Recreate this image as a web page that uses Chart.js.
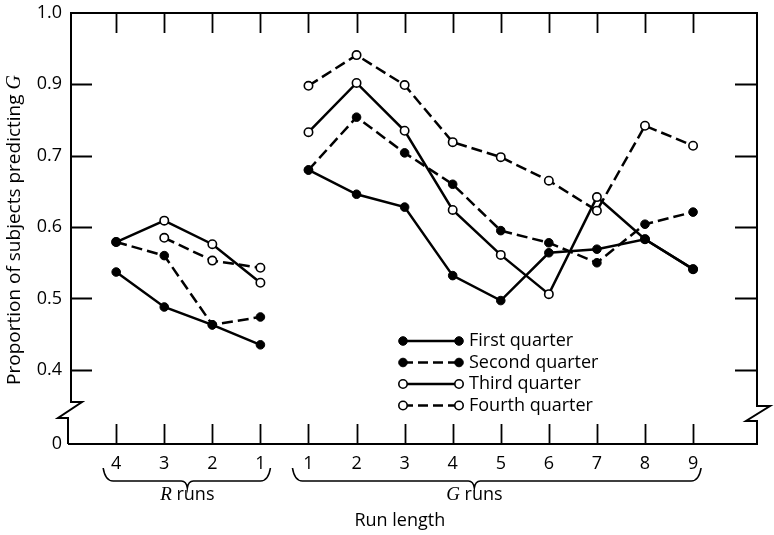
<!DOCTYPE html>
<html>
<head>
<meta charset="utf-8">
<script src="https://cdn.jsdelivr.net/npm/chart.js@4"></script>
<style>
  body { margin: 0; background: #fff; }
  .wrap { width: 774px; height: 535px; position: relative; }
</style>
</head>
<body>
<div class="wrap"><canvas id="runs"></canvas></div>
<script>
// run lengths: R runs counted down to 1, then G runs 1..9
const rLabels = ["4", "3", "2", "1"];
const gLabels = ["1", "2", "3", "4", "5", "6", "7", "8", "9"];

const seriesNames = ["First quarter", "Second quarter", "Third quarter", "Fourth quarter"];
const firstQuarter = [0.537, 0.488, 0.463, 0.435, 0.680, 0.646, 0.628, 0.532, 0.497, 0.564, 0.569, 0.583, 0.541];
const secondQuarter = [0.579, 0.560, 0.463, 0.474, 0.680, 0.754, 0.704, 0.660, 0.595, 0.578, 0.550, 0.604, 0.621];
const thirdQuarter = [0.579, 0.609, 0.576, 0.522, 0.733, 0.802, 0.735, 0.624, 0.561, 0.506, 0.642, 0.583, 0.541];
const fourthQuarter = [null, 0.585, 0.553, 0.543, 0.798, 0.841, 0.799, 0.719, 0.698, 0.665, 0.623, 0.742, 0.714];

// the axis is broken below 0.4, its foot is labelled 0
const yTickValues = [0.296, 0.4, 0.5, 0.6, 0.7, 0.8, 0.9];
const yTickLabels = ["0", "0.4", "0.5", "0.6", "0.7", "0.9", "1.0"];

const xLabels = rLabels.concat(gLabels);
const xIndex = xLabels.map((l, i) => i);

const SANS = "'Open Sans', 'Liberation Sans', sans-serif";
const SERIF_IT = "italic 19px 'Liberation Serif', serif";

// lines are not joined across the R / G split
const toPoints = (values) => {
  const pts = [];
  values.forEach((v, i) => {
    if (i === rLabels.length) pts.push({ x: i - 0.5, y: null });
    pts.push({ x: i, y: v });
  });
  return pts;
};

const styles = [
  { dash: [], fill: "#000" },
  { dash: [11, 5], fill: "#000" },
  { dash: [], fill: "#fff" },
  { dash: [11, 5], fill: "#fff" },
];
const values = [firstQuarter, secondQuarter, thirdQuarter, fourthQuarter];

const datasets = values.map((vals, i) => ({
  label: seriesNames[i],
  data: toPoints(vals),
  borderColor: "#000",
  borderWidth: 2.5,
  borderDash: styles[i].dash,
  pointBackgroundColor: styles[i].fill,
  pointBorderColor: "#000",
  pointBorderWidth: styles[i].fill === "#000" ? 1 : 1.6,
  pointRadius: styles[i].fill === "#000" ? 4.3 : 4.2,
  tension: 0,
  spanGaps: false,
}));

function drawBrace(ctx, x1, x2, xm, yTop, yLine, yTip) {
  ctx.beginPath();
  ctx.moveTo(x1, yTop);
  ctx.quadraticCurveTo(x1 + 2, yLine, x1 + 10, yLine);
  ctx.lineTo(xm - 6, yLine);
  ctx.quadraticCurveTo(xm - 1, yLine, xm, yTip);
  ctx.quadraticCurveTo(xm + 1, yLine, xm + 6, yLine);
  ctx.lineTo(x2 - 10, yLine);
  ctx.quadraticCurveTo(x2 - 2, yLine, x2, yTop);
  ctx.stroke();
}

function drawMixed(ctx, parts, cx, cy) {
  // parts: [text, font]; centred on cx
  let total = 0;
  parts.forEach((p) => { ctx.font = p[1]; total += ctx.measureText(p[0]).width; });
  let x = cx - total / 2;
  ctx.textAlign = "left";
  ctx.textBaseline = "middle";
  parts.forEach((p) => {
    ctx.font = p[1];
    ctx.fillText(p[0], x, cy);
    x += ctx.measureText(p[0]).width;
  });
}

const framePlugin = {
  id: "frame",
  afterDraw(chart) {
    const { ctx, chartArea: a, scales } = chart;
    const xs = scales.x, ys = scales.y;
    const L = a.left, R = a.right, T = a.top, B = a.bottom;
    ctx.save();
    ctx.strokeStyle = "#000";
    ctx.fillStyle = "#000";
    ctx.lineWidth = 2;
    ctx.setLineDash([]);

    // frame with zigzag breaks on both sides
    ctx.beginPath();
    ctx.moveTo(L - 3, B);
    ctx.lineTo(L - 3, B - 26);
    ctx.lineTo(L - 13, B - 26);
    ctx.lineTo(L + 11, B - 42);
    ctx.lineTo(L, B - 42);
    ctx.lineTo(L, T);
    ctx.lineTo(R, T);
    ctx.lineTo(R, B - 38);
    ctx.lineTo(R + 13, B - 38);
    ctx.lineTo(R - 11, B - 23);
    ctx.lineTo(R, B - 23);
    ctx.lineTo(R, B);
    ctx.lineTo(L - 3, B);
    ctx.stroke();

    // inward tick marks
    ctx.lineWidth = 1.8;
    ctx.beginPath();
    yTickValues.slice(1, -1).forEach((v) => {
      const y = Math.round(ys.getPixelForValue(v)) + 0.5;
      ctx.moveTo(L, y); ctx.lineTo(L + 21, y);
      ctx.moveTo(R, y); ctx.lineTo(R - 22, y);
    });
    xIndex.forEach((v) => {
      const x = Math.round(xs.getPixelForValue(v)) + 0.5;
      ctx.moveTo(x, T); ctx.lineTo(x, T + 20);
      ctx.moveTo(x, B); ctx.lineTo(x, B - 20);
    });
    ctx.stroke();

    // braces under the run groups
    ctx.lineWidth = 1.6;
    const px = (v) => xs.getPixelForValue(v);
    drawBrace(ctx, px(0) - 13, px(3) + 10, px(1.48), 468, 481, 488);
    drawBrace(ctx, px(4) - 16, px(12) + 8, px(7.45), 468, 481, 488);

    drawMixed(ctx, [["R", SERIF_IT], [" runs", "18px " + SANS]], px(1.48), 495);
    drawMixed(ctx, [["G", SERIF_IT], [" runs", "18px " + SANS]], px(7.45), 495);
    drawMixed(ctx, [["Run length", "18px " + SANS]], px(5.9), 521);

    // y axis title
    ctx.save();
    ctx.translate(15, 230);
    ctx.rotate(-Math.PI / 2);
    drawMixed(ctx, [["Proportion of subjects predicting ", "19px " + SANS], ["G", "italic 20px 'Liberation Serif', serif"]], 0, 0);
    ctx.restore();

    // legend: line with a marker at each end
    chart.data.datasets.forEach((ds, i) => {
      const y = 341 + i * 21.5;
      const x1 = 403, x2 = 459;
      ctx.lineWidth = 2.5;
      ctx.setLineDash(ds.borderDash.length ? [10, 5] : []);
      ctx.beginPath();
      ctx.moveTo(x1, y);
      ctx.lineTo(x2, y);
      ctx.stroke();
      ctx.setLineDash([]);
      [x1, x2].forEach((x) => {
        ctx.beginPath();
        ctx.arc(x, y, ds.pointRadius, 0, Math.PI * 2);
        ctx.fillStyle = ds.pointBackgroundColor;
        ctx.fill();
        ctx.lineWidth = ds.pointBorderWidth;
        ctx.stroke();
      });
      ctx.fillStyle = "#000";
      ctx.font = "18px " + SANS;
      ctx.textAlign = "left";
      ctx.textBaseline = "middle";
      ctx.fillText(ds.label, 469, y);
    });
    ctx.restore();
  },
};

new Chart(document.getElementById("runs"), {
  type: "line",
  data: { datasets },
  options: {
    responsive: true,
    maintainAspectRatio: false,
    animation: false,
    layout: { padding: { top: 13, right: 17, left: 0, bottom: 0 } },
    plugins: { legend: { display: false }, tooltip: { enabled: false } },
    scales: {
      x: {
        type: "linear",
        min: -0.94,
        max: 13.33,
        afterBuildTicks: (s) => { s.ticks = xIndex.map((v) => ({ value: v })); },
        afterFit: (s) => { s.height = 91; s.paddingLeft = 0; s.paddingRight = 0; },
        grid: { display: false, drawTicks: false },
        border: { display: false },
        ticks: {
          autoSkip: false,
          maxRotation: 0,
          padding: 9,
          color: "#000",
          font: { family: SANS, size: 18 },
          callback: (v, i) => xLabels[i],
        },
      },
      y: {
        type: "linear",
        min: yTickValues[0],
        max: yTickValues[yTickValues.length - 1],
        afterBuildTicks: (s) => { s.ticks = yTickValues.map((v) => ({ value: v })); },
        afterFit: (s) => { s.width = 71; s.paddingTop = 0; s.paddingBottom = 0; },
        grid: { display: false, drawTicks: false },
        border: { display: false },
        ticks: {
          autoSkip: false,
          padding: 9,
          color: "#000",
          font: { family: SANS, size: 18 },
          callback: (v, i) => yTickLabels[i],
        },
      },
    },
  },
  plugins: [framePlugin],
});
</script>
</body>
</html>
